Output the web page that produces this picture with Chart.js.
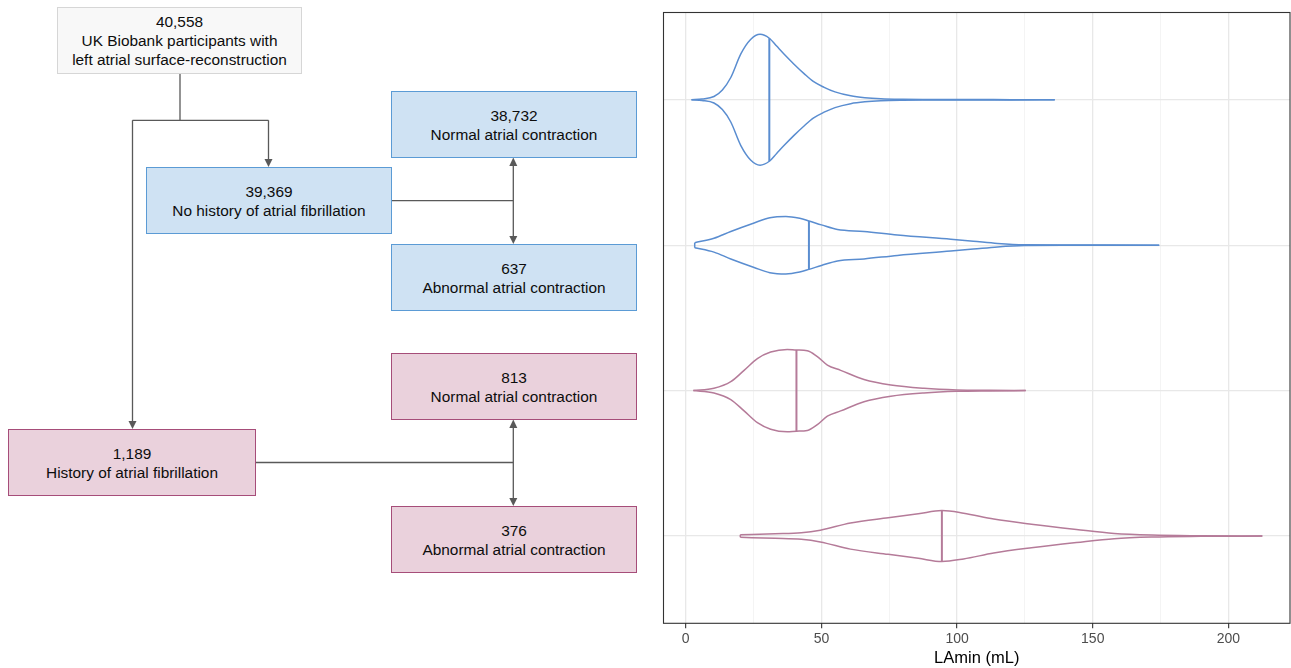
<!DOCTYPE html>
<html>
<head>
<meta charset="utf-8">
<script src="https://cdn.jsdelivr.net/npm/chart.js@4.4.1/dist/chart.umd.min.js"></script>
<style>
  html, body { margin: 0; padding: 0; background: #fff; }
  body { width: 1291px; height: 668px; position: relative; overflow: hidden;
         font-family: "Liberation Sans", Arial, sans-serif; }
  .box { position: absolute; box-sizing: border-box; border: 1px solid;
         display: flex; flex-direction: column; justify-content: center; align-items: center;
         text-align: center; font-size: 15.4px; line-height: 19px; color: #0d0d0d; }
  .grey { background: #f8f8f8; border-color: #d6d6d6; }
  .blue { background: #cfe2f3; border-color: #5b9bd5; }
  .pink { background: #ead1dc; border-color: #a64d79; }
  #links { position: absolute; left: 0; top: 0; }
  #wrap { position: absolute; left: 640px; top: 0; width: 651px; height: 668px; }
</style>
</head>
<body>

<svg id="links" width="640" height="668">
  <g stroke="#595959" stroke-width="1.3" fill="none">
    <path d="M180 73.5 V120.3 M132.5 120.3 H268.5 M268.5 120.3 V160 M132.5 120.3 V422"/>
    <path d="M391 200.7 H513.3 M513.3 165 V237"/>
    <path d="M256 462.5 H513.3 M513.3 427 V499"/>
  </g>
  <g fill="#595959">
    <path d="M264.5 159 L272.5 159 L268.5 167 Z"/>
    <path d="M128.5 421 L136.5 421 L132.5 429 Z"/>
    <path d="M509.3 166 L517.3 166 L513.3 157.5 Z"/>
    <path d="M509.3 236 L517.3 236 L513.3 244 Z"/>
    <path d="M509.3 428 L517.3 428 L513.3 419.5 Z"/>
    <path d="M509.3 498 L517.3 498 L513.3 506 Z"/>
  </g>
</svg>

<div class="box grey" style="left:57px;top:7px;width:245px;height:67px;">
  <div>40,558</div><div>UK Biobank participants with</div><div>left atrial surface-reconstruction</div>
</div>
<div class="box blue" style="left:146px;top:167px;width:246px;height:67px;">
  <div>39,369</div><div>No history of atrial fibrillation</div>
</div>
<div class="box blue" style="left:391px;top:91px;width:246px;height:67px;">
  <div>38,732</div><div>Normal atrial contraction</div>
</div>
<div class="box blue" style="left:391px;top:244px;width:246px;height:67px;">
  <div>637</div><div>Abnormal atrial contraction</div>
</div>
<div class="box pink" style="left:391px;top:353px;width:246px;height:67px;">
  <div>813</div><div>Normal atrial contraction</div>
</div>
<div class="box pink" style="left:8px;top:429px;width:248px;height:67px;">
  <div>1,189</div><div>History of atrial fibrillation</div>
</div>
<div class="box pink" style="left:391px;top:506px;width:246px;height:67px;">
  <div>376</div><div>Abnormal atrial contraction</div>
</div>

<div id="wrap"><canvas id="violins"></canvas></div>

<script>
// LAmin values (mL) along each violin outline, and the relative density there
// (1 = widest point of all four violins)
const laminNoAfNormal = [2.1, 6, 10.4, 13.5, 16.6, 20.3, 23.9, 27.4, 30.8, 33.5, 36.2, 40, 43.6, 47, 51, 55, 60.8, 66, 71.9, 80, 90, 100, 120, 136];
const densNoAfNormal  = [0, 0.012, 0.05, 0.15, 0.34, 0.70, 0.92, 1.0, 0.94, 0.82, 0.70, 0.54, 0.40, 0.28, 0.19, 0.12, 0.06, 0.032, 0.016, 0.008, 0.005, 0.003, 0.002, 0];

const laminNoAfAbnormal = [3.3, 10.4, 16.6, 25.2, 31, 36.9, 42, 45.4, 50, 55.9, 65.7, 78, 97.7, 106, 114.9, 124.7, 140, 174.5];
const densNoAfAbnormal  = [0.038, 0.106, 0.21, 0.34, 0.42, 0.44, 0.41, 0.37, 0.31, 0.24, 0.21, 0.156, 0.09, 0.06, 0.026, 0.005, 0.002, 0];

const laminAfNormal = [2.8, 10.4, 16.6, 21.5, 26.4, 31.3, 37.4, 40.8, 44.8, 48.5, 52.2, 57.1, 65.7, 75.6, 87.8, 100, 112, 125.3];
const densAfNormal  = [0, 0.035, 0.136, 0.31, 0.49, 0.59, 0.63, 0.62, 0.61, 0.52, 0.39, 0.31, 0.17, 0.086, 0.036, 0.011, 0.004, 0];

const laminAfAbnormal = [20.1, 32.9, 42.6, 49.6, 60.7, 74.6, 85.7, 94.4, 102.4, 113.5, 127.4, 144, 157.9, 171.8, 190, 212.5];
const densAfAbnormal  = [0.02, 0.035, 0.05, 0.09, 0.2, 0.28, 0.34, 0.39, 0.35, 0.26, 0.18, 0.10, 0.04, 0.015, 0.005, 0];

const medians = [30.8, 45.4, 40.8, 94.4];
const xTicks = [0, 25, 50, 75, 100, 125, 150, 175, 200];
const categories = [1, 2, 3, 4];

const blue = '#5a8dd0';
const pink = '#b57b99';

const violins = [
  { lamin: laminNoAfNormal, dens: densNoAfNormal, color: blue },
  { lamin: laminNoAfAbnormal, dens: densNoAfAbnormal, color: blue },
  { lamin: laminAfNormal, dens: densAfNormal, color: pink },
  { lamin: laminAfAbnormal, dens: densAfAbnormal, color: pink }
];

const halfWidth = 0.45;
const datasets = [];
violins.forEach((v, i) => {
  const cat = categories[i];
  const line = { showLine: true, pointRadius: 0, borderColor: v.color, borderWidth: 1.5, fill: false };
  datasets.push({ ...line, cubicInterpolationMode: 'monotone',
    data: v.lamin.map((x, j) => ({ x, y: cat - v.dens[j] * halfWidth })) });
  datasets.push({ ...line, cubicInterpolationMode: 'monotone',
    data: v.lamin.map((x, j) => ({ x, y: cat + v.dens[j] * halfWidth })) });
  if (v.dens[0] > 0) {
    datasets.push({ ...line, data: [
      { x: v.lamin[0], y: cat - v.dens[0] * halfWidth },
      { x: v.lamin[0], y: cat + v.dens[0] * halfWidth }] });
  }
  const k = v.lamin.indexOf(medians[i]);
  datasets.push({ ...line, borderWidth: 2, data: [
    { x: medians[i], y: cat - v.dens[k] * halfWidth },
    { x: medians[i], y: cat + v.dens[k] * halfWidth }] });
});

const panelBorder = {
  id: 'panelBorder',
  afterDraw(chart) {
    const a = chart.chartArea, c = chart.ctx;
    c.save();
    c.strokeStyle = '#333333';
    c.lineWidth = 1.1;
    c.strokeRect(a.left, a.top, a.right - a.left, a.bottom - a.top);
    c.restore();
  }
};

new Chart(document.getElementById('violins'), {
  type: 'scatter',
  data: { datasets },
  plugins: [panelBorder],
  options: {
    responsive: true,
    maintainAspectRatio: false,
    animation: false,
    layout: { padding: { left: 23.5, top: 12.5, right: 1, bottom: 0 } },
    plugins: { legend: { display: false }, tooltip: { enabled: false } },
    scales: {
      x: {
        type: 'linear', min: -8.2, max: 222.7,
        afterBuildTicks(s) { s.ticks = xTicks.map(v => ({ value: v })); },
        afterFit(s) { s.height = 44.7; },
        border: { display: false },
        grid: {
          color: c => (c.tick && c.tick.value % 50 === 0) ? '#e8e8e8' : '#f1f1f1',
          lineWidth: c => (c.tick && c.tick.value % 50 === 0) ? 1.3 : 0.8,
          tickColor: c => (c.tick && c.tick.value % 50 === 0) ? '#333333' : 'rgba(0,0,0,0)',
          tickLength: 5,
          tickWidth: 1.1
        },
        ticks: {
          padding: 2, color: '#4d4d4d', maxRotation: 0, autoSkip: false,
          font: { family: '"Liberation Sans", Arial', size: 14 },
          callback: v => (v % 50 === 0 ? String(v) : '')
        },
        title: {
          display: true, text: 'LAmin (mL)', color: '#000',
          font: { family: '"Liberation Sans", Arial', size: 16.5 },
          padding: { top: 0, bottom: 0 }
        }
      },
      y: {
        type: 'linear', reverse: true, min: 0.4, max: 4.6,
        afterBuildTicks(s) { s.ticks = categories.map(v => ({ value: v })); },
        afterFit(s) { s.width = 0; },
        border: { display: false },
        grid: { color: '#e8e8e8', lineWidth: 1.3, drawTicks: false },
        ticks: { display: false }
      }
    }
  }
});
</script>
</body>
</html>
